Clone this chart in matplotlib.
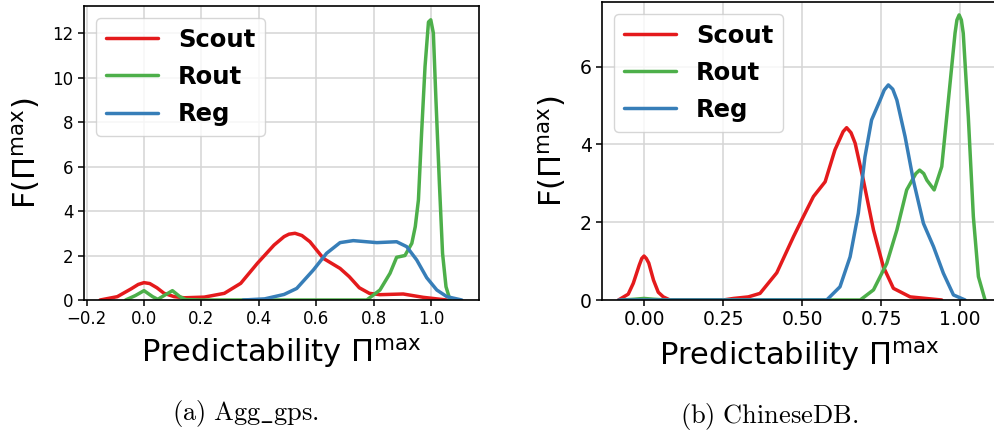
import matplotlib
matplotlib.use("Agg")
import matplotlib.pyplot as plt

plt.rcParams['mathtext.fontset'] = 'dejavusans'
plt.rcParams['font.family'] = ['DejaVu Sans']

labels = ["Scout", "Rout", "Reg"]
colors = ["#e41a1c", "#4daf4a", "#377eb8"]

# ---- panel (a) Agg_gps ----
agg_scout_x = [-0.153, -0.093, -0.045, -0.02, 0.0, 0.02, 0.045, 0.07, 0.105, 0.14, 0.21, 0.28, 0.337, 0.395,
               0.453, 0.488, 0.505, 0.526, 0.55, 0.578, 0.625, 0.683, 0.715, 0.75, 0.785, 0.822, 0.903,
               0.973, 1.02, 1.055]
agg_scout_y = [0.0, 0.15, 0.5, 0.7, 0.78, 0.74, 0.55, 0.3, 0.15, 0.1, 0.13, 0.3, 0.75, 1.65,
               2.47, 2.85, 2.96, 3.0, 2.9, 2.62, 1.87, 1.42, 1.05, 0.55, 0.3, 0.24, 0.27,
               0.12, 0.05, 0.0]
agg_rout_x = [-0.064, -0.03, 0.0, 0.03, 0.048, 0.07, 0.099, 0.125, 0.145, 0.2, 0.5, 0.776, 0.822, 0.857,
              0.88, 0.909, 0.933, 0.945, 0.956, 0.967, 0.979, 0.991, 0.999, 1.008, 1.017, 1.029, 1.04,
              1.052, 1.066]
agg_rout_y = [0.0, 0.2, 0.42, 0.15, 0.03, 0.2, 0.42, 0.15, 0.02, 0.0, 0.0, 0.0, 0.45, 1.2,
              1.92, 2.0, 2.55, 3.3, 4.5, 7.5, 10.5, 12.5, 12.6, 12.0, 9.0, 5.25, 2.1,
              0.6, 0.0]
agg_reg_x = [0.345, 0.42, 0.488, 0.532, 0.59, 0.636, 0.683, 0.729, 0.811, 0.88, 0.915, 0.95, 0.985,
             1.02, 1.055, 1.107]
agg_reg_y = [0.0, 0.05, 0.25, 0.52, 1.35, 2.1, 2.58, 2.67, 2.58, 2.62, 2.4, 1.8, 1.0,
             0.45, 0.15, 0.0]

# ---- panel (b) ChineseDB ----
cdb_scout_x = [-0.081, -0.05, -0.034, -0.015, -0.007, 0.0, 0.007, 0.015, 0.03, 0.045, 0.061, 0.082, 0.25,
               0.283, 0.33, 0.367, 0.42, 0.473, 0.499, 0.536, 0.573, 0.604, 0.63, 0.641, 0.655, 0.668,
               0.694, 0.726, 0.757, 0.789, 0.842, 0.942]
cdb_scout_y = [0.0, 0.15, 0.43, 0.9, 1.07, 1.13, 1.07, 0.95, 0.51, 0.2, 0.08, 0.0, 0.0,
               0.04, 0.08, 0.17, 0.7, 1.63, 2.06, 2.66, 3.04, 3.86, 4.33, 4.43, 4.3, 4.03,
               3.08, 1.8, 0.86, 0.3, 0.08, 0.0]
cdb_rout_x = [-0.07, -0.03, 0.0, 0.03, 0.07, 0.684, 0.726, 0.768, 0.8, 0.831, 0.86, 0.872, 0.885, 0.895,
              0.918, 0.942, 0.963, 0.984, 0.99, 0.997, 1.004, 1.01, 1.026, 1.042, 1.058, 1.079]
cdb_rout_y = [0.0, 0.02, 0.04, 0.02, 0.0, 0.0, 0.26, 0.94, 1.8, 2.83, 3.25, 3.34, 3.25, 3.08,
              2.83, 3.43, 5.14, 6.86, 7.2, 7.33, 7.2, 6.86, 4.71, 2.14, 0.6, 0.0]
cdb_reg_x = [-0.08, 0.578, 0.62, 0.652, 0.678, 0.699, 0.72, 0.747, 0.76, 0.773, 0.787, 0.8, 0.826,
             0.852, 0.884, 0.916, 0.947, 0.979, 1.016]
cdb_reg_y = [0.0, 0.0, 0.34, 1.11, 2.23, 3.68, 4.63, 5.14, 5.4, 5.53, 5.42, 5.14, 4.2,
             3.08, 1.97, 1.37, 0.69, 0.13, 0.0]

agg_xticks = [-0.2, 0.0, 0.2, 0.4, 0.6, 0.8, 1.0]
agg_yticks = [0, 2, 4, 6, 8, 10, 12]
cdb_xticks = [0.0, 0.25, 0.5, 0.75, 1.0]
cdb_yticks = [0, 2, 4, 6]

W, H = 995, 436
fig = plt.figure(figsize=(W / 100, H / 100), dpi=100)

def px_axes(l, t, r, b):
    return [l / W, (H - b) / H, (r - l) / W, (b - t) / H]

ax1 = fig.add_axes(px_axes(84, 6, 479, 300))
ax2 = fig.add_axes(px_axes(602, 1.7, 995.8, 300))

panels = [
    (ax1, [(agg_scout_x, agg_scout_y), (agg_rout_x, agg_rout_y), (agg_reg_x, agg_reg_y)],
     agg_xticks, agg_yticks, (-0.209, 1.167), (0, 13.22), 12, "{:.1f}", -0.147, -0.211),
    (ax2, [(cdb_scout_x, cdb_scout_y), (cdb_rout_x, cdb_rout_y), (cdb_reg_x, cdb_reg_y)],
     cdb_xticks, cdb_yticks, (-0.133, 1.113), (0, 7.67), 13.5, "{:.2f}", -0.127, -0.218),
]

for ax, series, xt, yt, xl, yl, tfs, fmt, ylx, xly in panels:
    ax.set_axisbelow(True)
    ax.grid(True, color="#d5d5d5", linewidth=1.1)
    for (xs, ys), lab, c in zip(series, labels, colors):
        ax.plot(xs, ys, color=c, lw=2.5, label=lab, solid_capstyle='round', solid_joinstyle='round')
    ax.set_xlim(*xl)
    ax.set_ylim(*yl)
    ax.set_xticks(xt)
    ax.set_xticklabels([fmt.format(v).replace("-", "\u2212") for v in xt])
    ax.set_yticks(yt)
    ax.tick_params(labelsize=tfs, length=4, width=1.1, colors="black")
    for s in ax.spines.values():
        s.set_linewidth(1.2)
        s.set_color("black")
    ax.set_xlabel(r"Predictability $\Pi^{\mathrm{max}}$", fontsize=22)
    ax.xaxis.set_label_coords(0.5, xly)
    ax.xaxis.label.set_va("baseline")
    ax.set_ylabel(r"F($\Pi^{\mathrm{max}}$)", fontsize=22)
    ax.yaxis.set_label_coords(ylx, 0.5)
    ax.yaxis.label.set_va("center")
    leg = ax.legend(loc="upper left", prop={"weight": "bold", "size": 17.5},
                    handlelength=2.14, handletextpad=0.82, labelspacing=0.54,
                    borderpad=0.4, borderaxespad=0.5, fancybox=True, framealpha=0.8,
                    edgecolor="#cccccc")
    for h in leg.get_lines():
        h.set_linewidth(2.5)

fig.text(245 / W, (H - 420) / H, r"$\mathrm{(a)\ Agg\_gps.}$", fontsize=19, ha="center",
         va="baseline", math_fontfamily="cm")
fig.text(769 / W, (H - 423) / H, r"$\mathrm{(b)\ ChineseDB.}$", fontsize=19, ha="center",
         va="baseline", math_fontfamily="cm")

fig.savefig("out.png", dpi=100)
